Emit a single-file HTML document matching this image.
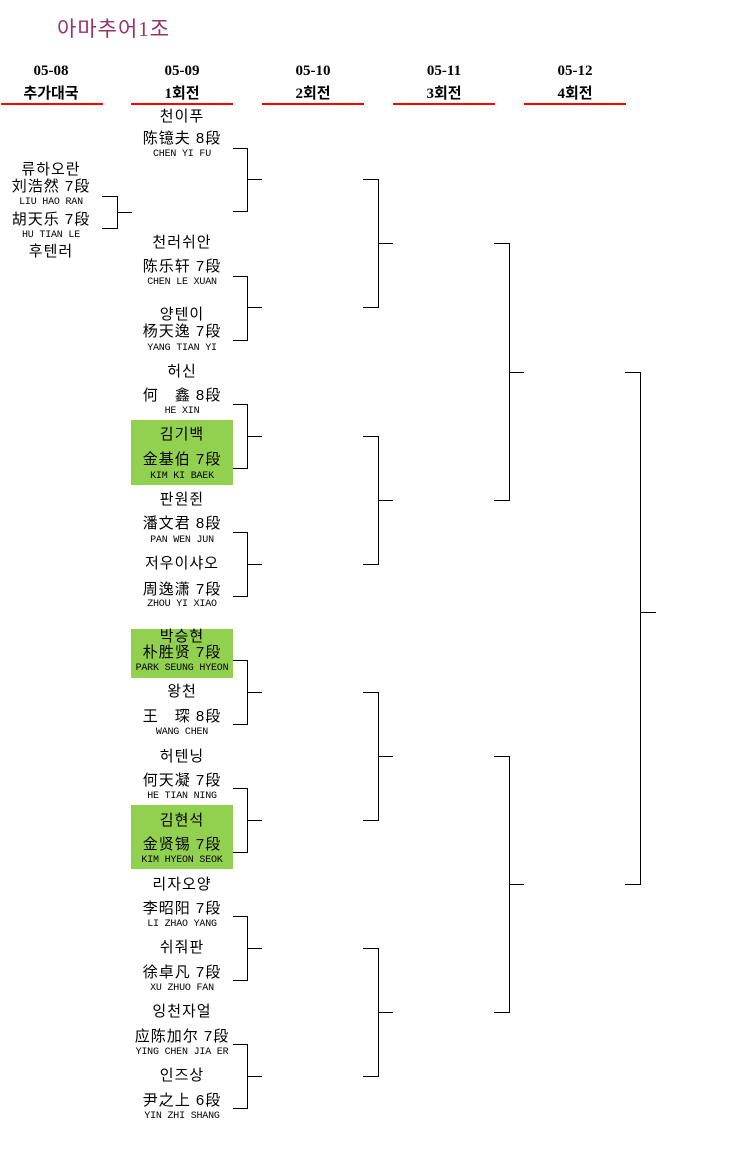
<!DOCTYPE html>
<html><head><meta charset="utf-8"><style>
body{margin:0;width:753px;height:1161px;background:#fff;position:relative;overflow:hidden;font-family:"Liberation Sans","Noto Sans CJK KR",sans-serif;}
.t{position:absolute;text-align:center;white-space:nowrap;color:#000;}
.k{font-size:15px;line-height:18px;letter-spacing:1px;}
.r{font-size:10px;line-height:10px;font-family:"Liberation Mono",monospace;letter-spacing:-0.2px;}
.h{font-size:15px;line-height:16px;font-weight:bold;font-family:"Liberation Serif","Noto Sans CJK KR",serif;}
.c1{left:131px;width:102px;}
.c0{left:0;width:102px;}
.ul{position:absolute;height:2px;background:#f00;top:103px;width:102px;}
.g{position:absolute;background:#92d050;left:131px;width:102px;}
</style></head><body>
<div class="t" style="left:57px;top:16px;font-size:21px;line-height:26px;color:#993366;letter-spacing:1px;font-family:'Liberation Serif','Noto Sans CJK KR',serif;">아마추어1조</div>

<div class="t h" style="left:0;width:102px;top:63px;">05-08</div>
<div class="t h" style="left:0;width:102px;top:86px;">추가대국</div>
<div class="t h" style="left:131px;width:102px;top:63px;">05-09</div>
<div class="t h" style="left:131px;width:102px;top:86px;">1회전</div>
<div class="t h" style="left:262px;width:102px;top:63px;">05-10</div>
<div class="t h" style="left:262px;width:102px;top:86px;">2회전</div>
<div class="t h" style="left:393px;width:102px;top:63px;">05-11</div>
<div class="t h" style="left:393px;width:102px;top:86px;">3회전</div>
<div class="t h" style="left:524px;width:102px;top:63px;">05-12</div>
<div class="t h" style="left:524px;width:102px;top:86px;">4회전</div>
<div class="ul" style="left:1px"></div><div class="ul" style="left:131px"></div><div class="ul" style="left:262px"></div><div class="ul" style="left:393px"></div><div class="ul" style="left:524px"></div>

<div class="g" style="top:420px;height:65px"></div>
<div class="g" style="top:629px;height:49px"></div>
<div class="g" style="top:805px;height:64px"></div>

<div class="t k c0" style="top:161px">류하오란</div>
<div class="t k c0" style="top:178px">刘浩然 7段</div>
<div class="t r c0" style="top:198px">LIU HAO RAN</div>
<div class="t k c0" style="top:211px">胡天乐 7段</div>
<div class="t r c0" style="top:231px">HU TIAN LE</div>
<div class="t k c0" style="top:243px">후텐러</div>

<div class="t k c1" style="top:108px">천이푸</div>
<div class="t k c1" style="top:130px">陈镱夫 8段</div>
<div class="t r c1" style="top:150px">CHEN YI FU</div>
<div class="t k c1" style="top:234px">천러쉬안</div>
<div class="t k c1" style="top:258px">陈乐轩 7段</div>
<div class="t r c1" style="top:278px">CHEN LE XUAN</div>
<div class="t k c1" style="top:306px">양텐이</div>
<div class="t k c1" style="top:323px">杨天逸 7段</div>
<div class="t r c1" style="top:344px">YANG TIAN YI</div>
<div class="t k c1" style="top:363px">허신</div>
<div class="t k c1" style="top:387px">何　鑫 8段</div>
<div class="t r c1" style="top:407px">HE XIN</div>
<div class="t k c1" style="top:426px">김기백</div>
<div class="t k c1" style="top:451px">金基伯 7段</div>
<div class="t r c1" style="top:472px">KIM KI BAEK</div>
<div class="t k c1" style="top:491px">판원쥔</div>
<div class="t k c1" style="top:515px">潘文君 8段</div>
<div class="t r c1" style="top:536px">PAN WEN JUN</div>
<div class="t k c1" style="top:555px">저우이샤오</div>
<div class="t k c1" style="top:581px">周逸潇 7段</div>
<div class="t r c1" style="top:600px">ZHOU YI XIAO</div>
<div class="t k c1" style="top:629px;line-height:16px">박승현</div>
<div class="t k c1" style="top:645px;line-height:16px">朴胜贤 7段</div>
<div class="t r c1" style="top:664px">PARK SEUNG HYEON</div>
<div class="t k c1" style="top:683px">왕천</div>
<div class="t k c1" style="top:708px">王　琛 8段</div>
<div class="t r c1" style="top:728px">WANG CHEN</div>
<div class="t k c1" style="top:748px">허텐닝</div>
<div class="t k c1" style="top:772px">何天凝 7段</div>
<div class="t r c1" style="top:792px">HE TIAN NING</div>
<div class="t k c1" style="top:812px">김현석</div>
<div class="t k c1" style="top:836px">金贤锡 7段</div>
<div class="t r c1" style="top:856px">KIM HYEON SEOK</div>
<div class="t k c1" style="top:876px">리자오양</div>
<div class="t k c1" style="top:900px">李昭阳 7段</div>
<div class="t r c1" style="top:920px">LI ZHAO YANG</div>
<div class="t k c1" style="top:939px">쉬줘판</div>
<div class="t k c1" style="top:964px">徐卓凡 7段</div>
<div class="t r c1" style="top:984px">XU ZHUO FAN</div>
<div class="t k c1" style="top:1003px">잉천자얼</div>
<div class="t k c1" style="top:1028px">应陈加尔 7段</div>
<div class="t r c1" style="top:1048px">YING CHEN JIA ER</div>
<div class="t k c1" style="top:1067px">인즈상</div>
<div class="t k c1" style="top:1092px">尹之上 6段</div>
<div class="t r c1" style="top:1112px">YIN ZHI SHANG</div>

<svg width="753" height="1161" style="position:absolute;left:0;top:0" shape-rendering="crispEdges">
<g stroke="#000" stroke-width="1" fill="none">
<path d="M102 196.5H117.5V228.5H102M117.5 212.5H132"/>
<path d="M233 148.5H247.5V211.5H233M247.5 179.5H262"/>
<path d="M233 276.5H247.5V340.5H233M247.5 307.5H262"/>
<path d="M233 404.5H247.5V468.5H233M247.5 436.5H262"/>
<path d="M233 532.5H247.5V596.5H233M247.5 564.5H262"/>
<path d="M233 660.5H247.5V724.5H233M247.5 692.5H262"/>
<path d="M233 788.5H247.5V852.5H233M247.5 820.5H262"/>
<path d="M233 916.5H247.5V980.5H233M247.5 948.5H262"/>
<path d="M233 1044.5H247.5V1108.5H233M247.5 1076.5H262"/>
<path d="M363 179.5H378.5V307.5H363M378.5 243.5H393"/>
<path d="M363 436.5H378.5V564.5H363M378.5 500.5H393"/>
<path d="M363 692.5H378.5V820.5H363M378.5 756.5H393"/>
<path d="M363 948.5H378.5V1076.5H363M378.5 1012.5H393"/>
<path d="M494 243.5H509.5V500.5H494M509.5 372.5H524"/>
<path d="M494 756.5H509.5V1012.5H494M509.5 884.5H524"/>
<path d="M625 372.5H640.5V884.5H625M640.5 612.5H656"/>
</g></svg>
</body></html>
